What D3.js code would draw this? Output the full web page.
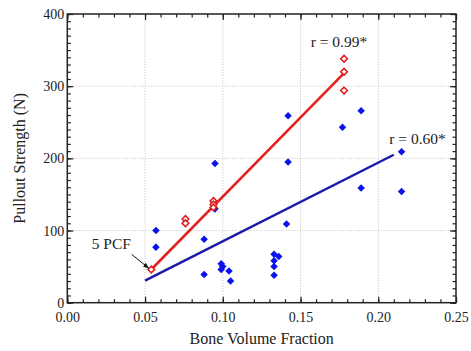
<!DOCTYPE html>
<html>
<head>
<meta charset="utf-8">
<script src="https://cdn.jsdelivr.net/npm/d3@7"></script>
<style>
  html, body { margin: 0; padding: 0; background: #fff; }
  svg { display: block; }
  text { font-family: "Liberation Serif", "Times New Roman", serif; fill: #222; }
</style>
</head>
<body>
<svg id="chart" width="471" height="351"></svg>
<script>
// ---- data ----
const blueX = [0.057, 0.057, 0.088, 0.088, 0.095, 0.095, 0.099, 0.100, 0.099, 0.104, 0.105,
               0.133, 0.136, 0.133, 0.133, 0.133, 0.141, 0.142, 0.142, 0.177, 0.189, 0.189, 0.215, 0.215];
const blueY = [100, 77, 88, 39, 130, 193, 54, 50, 46, 44, 30,
               67, 64, 58, 50, 38, 109, 259, 195, 243, 266, 159, 209, 154];
const redX = [0.054, 0.076, 0.076, 0.094, 0.094, 0.094, 0.178, 0.178, 0.178];
const redY = [46, 116, 110, 141, 136, 132, 338, 320, 294];
const redFitX = [0.054, 0.178];
const redFitY = [46, 318];
const blueFitX = [0.050, 0.210];
const blueFitY = [30.5, 205];
const xTicks = [0, 0.05, 0.10, 0.15, 0.20, 0.25];
const yTicks = [0, 100, 200, 300, 400];
const labels = ["r = 0.99*", "r = 0.60*", "5 PCF"];
const labelX = [0.1565, 0.2071, 0.0157];
const labelY = [354.6, 219.9, 74];
const arrowX = [0.0414, 0.0525];
const arrowY = [67, 47.5];

// ---- layout ----
const svg = d3.select("#chart");
const x = d3.scaleLinear().domain([0, 0.25]).range([67.3, 456]);
const y = d3.scaleLinear().domain([0, 400]).range([302.7, 14]);
const x0 = x.range()[0], x1 = x.range()[1], y0 = y.range()[0], y1 = y.range()[1];

// grid
const grid = svg.append("g").attr("stroke", "#b4b4b4").attr("stroke-width", 0.7).attr("stroke-dasharray", "1.2,1.5");
grid.selectAll("line.v").data(xTicks.slice(1, -1)).join("line")
  .attr("x1", d => x(d)).attr("x2", d => x(d)).attr("y1", y0).attr("y2", y1);
grid.selectAll("line.h").data(yTicks.slice(1, -1)).join("line")
  .attr("x1", x0).attr("x2", x1).attr("y1", d => y(d)).attr("y2", d => y(d));

// axes
const minorX = d3.range(0, 0.2501, 0.01);
const minorY = d3.range(0, 400.1, 10);
function styleAxis(g) {
  g.select(".domain").remove();
  g.selectAll(".tick line").attr("stroke", "#222").attr("stroke-width", 1.2);
  g.selectAll("text").style("font-size", "14px").attr("fill", "#2a2a2a");
}
const fmtX = d3.format(".2f");
svg.append("g").attr("transform", `translate(0,${y0})`)
  .call(d3.axisBottom(x).tickValues(minorX).tickSize(-3.5).tickFormat("")).call(styleAxis);
svg.append("g").attr("transform", `translate(0,${y0})`)
  .call(d3.axisBottom(x).tickValues(xTicks).tickSize(-6).tickPadding(9).tickFormat(fmtX)).call(styleAxis);
svg.append("g").attr("transform", `translate(0,${y1})`)
  .call(d3.axisTop(x).tickValues(minorX).tickSize(-3.5).tickFormat("")).call(styleAxis);
svg.append("g").attr("transform", `translate(0,${y1})`)
  .call(d3.axisTop(x).tickValues(xTicks).tickSize(-6).tickFormat("")).call(styleAxis);
svg.append("g").attr("transform", `translate(${x0},0)`)
  .call(d3.axisLeft(y).tickValues(minorY).tickSize(-3.5).tickFormat("")).call(styleAxis);
svg.append("g").attr("transform", `translate(${x0},0)`)
  .call(d3.axisLeft(y).tickValues(yTicks).tickSize(-6).tickPadding(3).tickFormat(d3.format("d"))).call(styleAxis);
svg.append("g").attr("transform", `translate(${x1},0)`)
  .call(d3.axisRight(y).tickValues(minorY).tickSize(-3.5).tickFormat("")).call(styleAxis);
svg.append("g").attr("transform", `translate(${x1},0)`)
  .call(d3.axisRight(y).tickValues(yTicks).tickSize(-6).tickFormat("")).call(styleAxis);

// frame
svg.append("rect").attr("x", x0).attr("y", y1).attr("width", x1 - x0).attr("height", y0 - y1)
  .attr("fill", "none").attr("stroke", "#222").attr("stroke-width", 1.5);

// axis titles
svg.append("text").attr("x", (x0 + x1) / 2).attr("y", 344).attr("text-anchor", "middle")
  .style("font-size", "16px").text("Bone Volume Fraction");
svg.append("text").attr("transform", `translate(25,${(y0 + y1) / 2}) rotate(-90)`).attr("text-anchor", "middle")
  .style("font-size", "16px").text("Pullout Strength (N)");

// fit lines
svg.append("line").attr("x1", x(blueFitX[0])).attr("y1", y(blueFitY[0]))
  .attr("x2", x(blueFitX[1])).attr("y2", y(blueFitY[1]))
  .attr("stroke", "#1a1aa8").attr("stroke-width", 2.5);
svg.append("line").attr("x1", x(redFitX[0])).attr("y1", y(redFitY[0]))
  .attr("x2", x(redFitX[1])).attr("y2", y(redFitY[1]))
  .attr("stroke", "#e61e1e").attr("stroke-width", 2.5);

// points
const diamond = d3.symbol().type(d3.symbolDiamond2);
svg.append("g").selectAll("path").data(blueX.map((d, i) => [d, blueY[i]])).join("path")
  .attr("transform", d => `translate(${x(d[0])},${y(d[1])})`)
  .attr("d", diamond.size(36)()).attr("fill", "#0a14e8");
svg.append("g").selectAll("path").data(redX.map((d, i) => [d, redY[i]])).join("path")
  .attr("transform", d => `translate(${x(d[0])},${y(d[1])})`)
  .attr("d", diamond.size(28)()).attr("fill", "#fff").attr("stroke", "#e01e1e").attr("stroke-width", 1.6);

// annotations
svg.append("g").selectAll("text").data(labels).join("text")
  .attr("x", (d, i) => x(labelX[i])).attr("y", (d, i) => y(labelY[i]))
  .style("font-size", "15.5px").text(d => d);

svg.append("defs").append("marker").attr("id", "ah").attr("viewBox", "0 0 10 10")
  .attr("refX", 10).attr("refY", 5).attr("markerWidth", 6).attr("markerHeight", 6).attr("orient", "auto")
  .append("path").attr("d", "M0,1 L10,5 L0,9 Z").attr("fill", "#111");
svg.append("line").attr("x1", x(arrowX[0])).attr("y1", y(arrowY[0]))
  .attr("x2", x(arrowX[1])).attr("y2", y(arrowY[1]))
  .attr("stroke", "#111").attr("stroke-width", 1).attr("marker-end", "url(#ah)");
</script>
</body>
</html>
